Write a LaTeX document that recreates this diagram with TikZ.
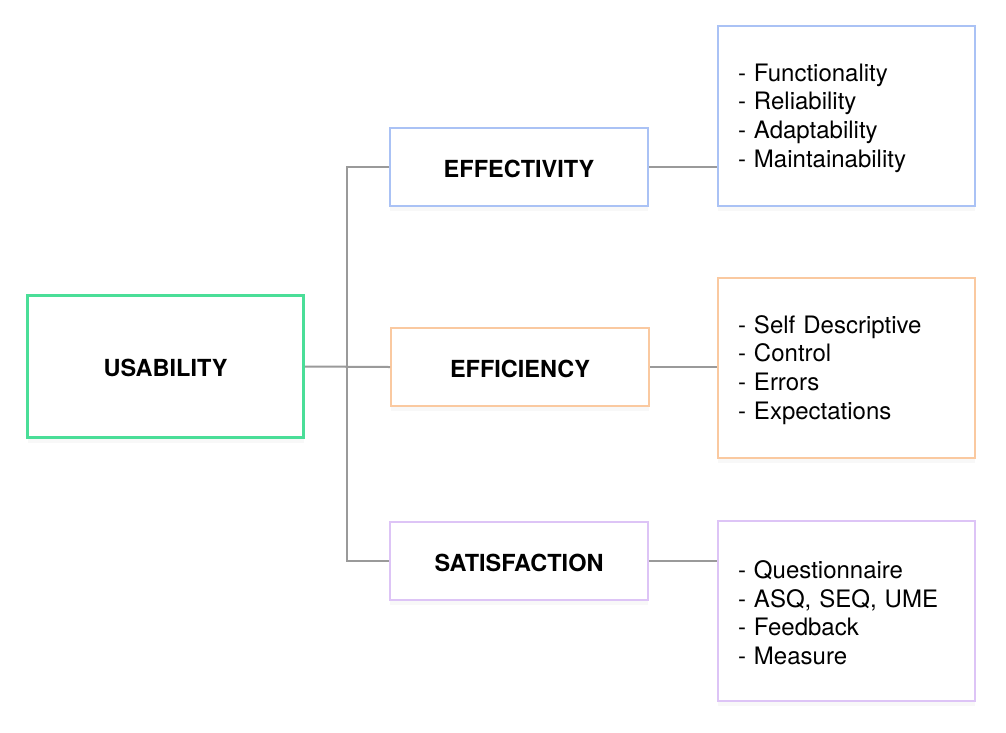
\documentclass[tikz,border=0pt]{standalone}
\usepackage{fontspec}
\setmainfont{TeX Gyre Heros}
\usetikzlibrary{shadows}

\definecolor{usegreen}{RGB}{74,222,152}
\definecolor{effblue}{RGB}{170,194,245}
\definecolor{efforange}{RGB}{250,201,160}
\definecolor{satpurple}{RGB}{221,196,246}
\definecolor{conngray}{RGB}{154,154,154}

\tikzset{
  softshadow/.style={drop shadow={opacity=0.06, shadow xshift=0pt, shadow yshift=-5pt}},
  rootbox/.style={draw=usegreen, line width=3pt, fill=white, softshadow,
    minimum width=276pt, minimum height=142pt, inner sep=0pt, text height=21pt,
    font=\fontsize{23.5}{28}\selectfont\bfseries},
  catbox/.style={draw=#1, line width=2pt, fill=white, softshadow,
    minimum width=258pt, minimum height=78pt, inner sep=0pt, text height=21pt,
    font=\fontsize{23.5}{28}\selectfont\bfseries},
  listbox/.style={draw=#1, line width=2pt, fill=white, softshadow,
    minimum width=257pt, minimum height=180pt, inner xsep=20pt, inner ysep=0pt,
    text width=217pt, text height=21.5pt, align=left,
    font=\fontsize{24}{28.7}\selectfont},
  conn/.style={draw=conngray, line width=2pt},
}

\begin{document}
\begin{tikzpicture}[x=1pt, y=-1pt]
\useasboundingbox (0,0) rectangle (1006,732);

% Define nodes
\path (165.5,366.5) node[rootbox] (usab) {USABILITY}
(519,167) node[catbox=effblue] (effect) {EFFECTIVITY}
(520,367) node[catbox=efforange] (effic) {EFFICIENCY}
(519,561) node[catbox=satpurple] (satis) {SATISFACTION}
(846.5,116) node[listbox=effblue] (effectL) {- Functionality\\- Reliability\\- Adaptability\\- Maintainability}
(846.5,368) node[listbox=efforange] (efficL) {- Self Descriptive\\- Control\\- Errors\\- Expectations}
(846.5,611) node[listbox=satpurple] (satisL) {- Questionnaire\\- ASQ, SEQ, UME\\- Feedback\\- Measure}
(347,367) coordinate (trunk)
;

% Connectors
\draw[conn] (effect.west) -| (trunk) |- (satis.west);
\draw[conn] (usab.east) -- (effic.west);
\draw[conn] (effect.east) -- (effect.east -| effectL.west);
\draw[conn] (effic.east) -- (effic.east -| efficL.west);
\draw[conn] (satis.east) -- (satis.east -| satisL.west);

\end{tikzpicture}
\end{document}
